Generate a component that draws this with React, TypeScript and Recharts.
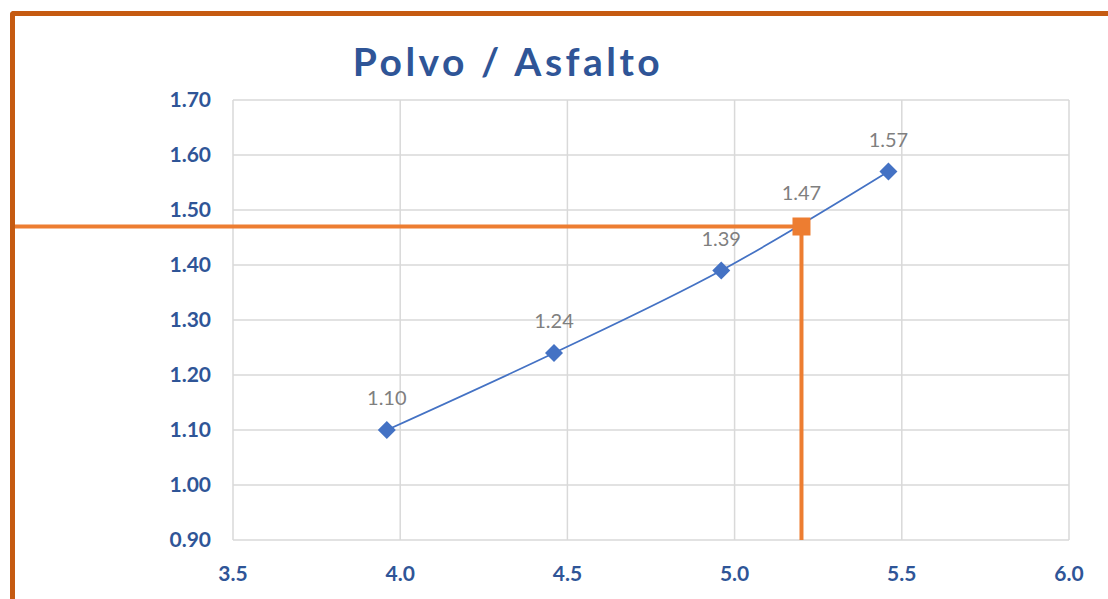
import { ComposedChart, Line, Scatter, XAxis, YAxis, CartesianGrid, ReferenceLine, LabelList } from "recharts"

// % de polvo/asfalto vs. densidad
const polvo = [3.96, 4.46, 4.96, 5.46]
const densidad = [1.1, 1.24, 1.39, 1.57]

// punto de diseño
const optimoX = 5.2
const optimoY = 1.47
const lineaDesde = 2.84

const xTicks = [3.5, 4.0, 4.5, 5.0, 5.5, 6.0]
const yTicks = [0.9, 1.0, 1.1, 1.2, 1.3, 1.4, 1.5, 1.6, 1.7]

const serie = polvo.map((x, i) => ({ x, y: densidad[i] }))
const optimo = [{ x: optimoX, y: optimoY }]

const AZUL = "#4472C4"
const NARANJA = "#ED7D31"
const TEXTO = "#2F5597"

const Diamante = (props: any) => {
  const { cx, cy, index } = props
  if (cx == null || cy == null) return null
  const r = 9
  return (
    <path
      key={`d-${index}`}
      d={`M${cx},${cy - r} L${cx + r},${cy} L${cx},${cy + r} L${cx - r},${cy} Z`}
      fill={AZUL}
    />
  )
}

const Cuadro = (props: any) => {
  const { cx, cy } = props
  if (cx == null || cy == null) return null
  return <rect x={cx - 9} y={cy - 9} width={18} height={18} fill={NARANJA} />
}

const tickStyle = { fill: TEXTO, fontSize: 21, fontWeight: 700, fontFamily: "Lato" }
const etiqueta = { fill: "#7F7F7F", fontSize: 20, fontFamily: "Lato" }

export default function App() {
  return (
    <div style={{ position: "absolute", left: 0, top: 0, width: 1108, height: 599, background: "#fff" }}>
      <ComposedChart
        width={1108}
        height={599}
        margin={{ top: 100, right: 39, left: 173, bottom: 19 }}
        style={{ position: "absolute", left: 0, top: 0 }}
      >
        <CartesianGrid stroke="#D9D9D9" strokeWidth={1.5} />
        <XAxis
          type="number"
          dataKey="x"
          domain={[3.5, 6.0]}
          ticks={xTicks}
          tickFormatter={(v: number) => v.toFixed(1)}
          tick={tickStyle}
          tickLine={false}
          tickSize={0}
          tickMargin={26}
          axisLine={false}
          height={40}
          allowDataOverflow
        />
        <YAxis
          type="number"
          dataKey="y"
          domain={[0.9, 1.7]}
          ticks={yTicks}
          tickFormatter={(v: number) => v.toFixed(2)}
          tick={tickStyle}
          tickLine={false}
          tickSize={0}
          tickMargin={22}
          axisLine={false}
          width={60}
        />
        <ReferenceLine
          segment={[{ x: lineaDesde, y: optimoY }, { x: optimoX, y: optimoY }]}
          stroke={NARANJA}
          strokeWidth={4}
          ifOverflow="visible"
        />
        <ReferenceLine
          segment={[{ x: optimoX, y: 0.9 }, { x: optimoX, y: optimoY }]}
          stroke={NARANJA}
          strokeWidth={4}
          ifOverflow="visible"
        />
        <Line
          data={serie}
          dataKey="y"
          type="monotone"
          stroke={AZUL}
          strokeWidth={1.75}
          dot={Diamante}
          activeDot={false}
          isAnimationActive={false}
        >
          <LabelList dataKey="y" position="top" offset={25} formatter={(v: any) => Number(v).toFixed(2)} {...etiqueta} />
        </Line>
        <Scatter data={optimo} dataKey="y" shape={Cuadro} isAnimationActive={false}>
          <LabelList dataKey="y" position="top" offset={22} formatter={(v: any) => Number(v).toFixed(2)} {...etiqueta} />
        </Scatter>
      </ComposedChart>
      <div
        style={{
          position: "absolute",
          left: 0,
          width: 1016,
          top: 37,
          textAlign: "center",
          fontFamily: "Lato",
          fontWeight: 700,
          fontSize: 39,
          letterSpacing: 3.5,
          color: TEXTO,
          lineHeight: "48px",
        }}
      >
        Polvo / Asfalto
      </div>
      <div
        style={{
          position: "absolute",
          left: 10,
          top: 11,
          width: 1098,
          height: 588,
          boxSizing: "border-box",
          borderTop: "5px solid #C55A11",
          borderLeft: "5px solid #C55A11",
          borderTopLeftRadius: 4,
          pointerEvents: "none",
        }}
      />
    </div>
  )
}
